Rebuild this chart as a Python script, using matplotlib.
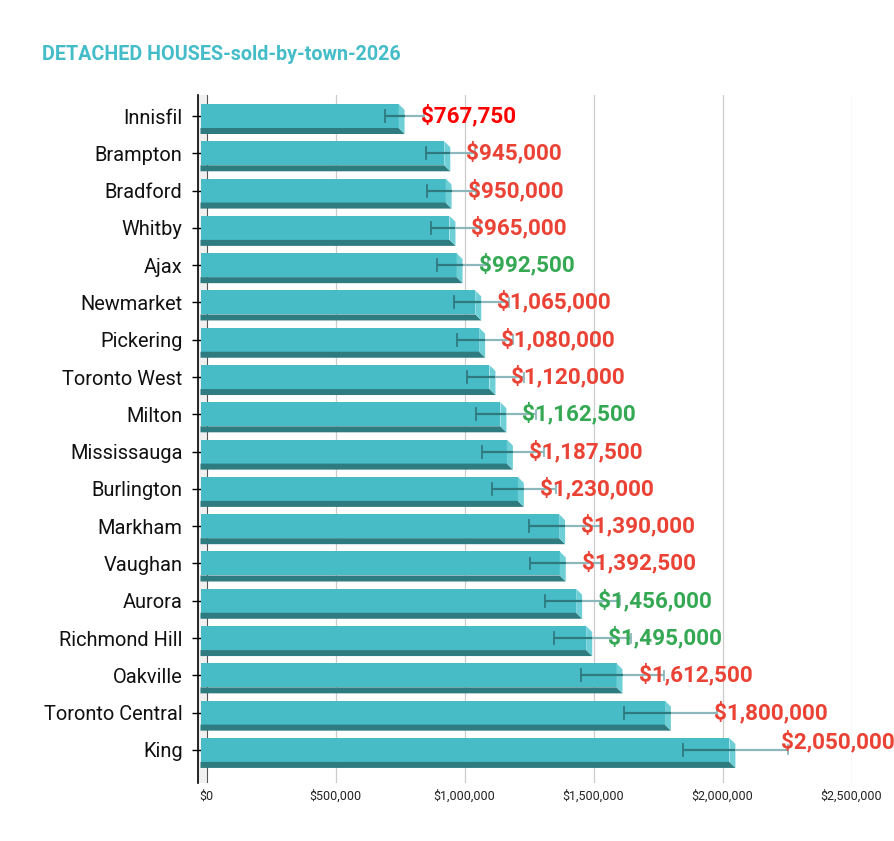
import matplotlib
matplotlib.use("Agg")
import matplotlib.pyplot as plt
from matplotlib.patches import Polygon
from matplotlib.ticker import FuncFormatter

towns = ["Innisfil", "Brampton", "Bradford", "Whitby", "Ajax", "Newmarket",
         "Pickering", "Toronto West", "Milton", "Mississauga", "Burlington",
         "Markham", "Vaughan", "Aurora", "Richmond Hill", "Oakville",
         "Toronto Central", "King"]
prices = [767750, 945000, 950000, 965000, 992500, 1065000, 1080000, 1120000,
          1162500, 1187500, 1230000, 1390000, 1392500, 1456000, 1495000,
          1612500, 1800000, 2050000]
trend = ["strong_down", "down", "down", "down", "up", "down", "down", "down",
         "up", "down", "down", "down", "down", "up", "up", "down", "down", "down"]
error_frac = 0.10
x_ticks = [0, 500000, 1000000, 1500000, 2000000, 2500000]
title = "DETACHED HOUSES-sold-by-town-2026"

# styles
FONT = "Roboto"
FRONT = "#47bcc7"
BOTTOM = "#2e7b80"
SIDE = "#6fcfd6"
ERR_IN = "#2f7a7e"
ERR_OUT = "#8cb7bb"
label_colors = {"strong_down": "#ff0000", "down": "#ea4335", "up": "#34a853"}
# labels placed at the error-bar end: (x back-off in data units, y shift in rows)
LABEL_AT_ERR_END = {"Toronto Central": (14000, 0.0), "King": (27000, -0.2)}

W, H = 894, 841
fig = plt.figure(figsize=(W / 100, H / 100), dpi=100)
left_px, right_px, top_px, bot_px = 198.3, 851.5, 94.5, 783
ax = fig.add_axes([left_px / W, 1 - bot_px / H, (right_px - left_px) / W, (bot_px - top_px) / H])

px_per_unit_x = 129 / 500000
row_px = 37.29
xmin = -(206.5 - left_px) / px_per_unit_x
ax.set_xlim(xmin, 2500000)
ax.set_ylim((bot_px - 116) / row_px, (top_px - 116) / row_px)

hh = 12 / row_px
dy = 6 / row_px
dx = 6 / px_per_unit_x

# wall + zero line
ax.axvspan(xmin, 0, color="#f0f0f0", zorder=0.5, lw=0)
ax.axvline(0, color="#555555", lw=0.8, zorder=0.6)

for gx in x_ticks[1:]:
    ax.axvline(gx, color="#cccccc", lw=0.9, zorder=0.4)

for i, (town, v, t) in enumerate(zip(towns, prices, trend)):
    y = i
    front = Polygon([(-dx, y - hh), (v - dx, y - hh), (v - dx, y + hh), (-dx, y + hh)],
                    closed=True, facecolor=FRONT, edgecolor="none", zorder=2, clip_on=False)
    bottom = Polygon([(-dx, y + hh), (v - dx, y + hh), (v, y + hh + dy), (-dx, y + hh + dy)],
                     closed=True, facecolor=BOTTOM, edgecolor="none", zorder=2, clip_on=False)
    side = Polygon([(v - dx, y - hh), (v, y - hh + dy), (v, y + hh + dy), (v - dx, y + hh)],
                   closed=True, facecolor=SIDE, edgecolor="none", zorder=2, clip_on=False)
    for p in (front, bottom, side):
        ax.add_patch(p)
    lo, hi = v * (1 - error_frac), v * (1 + error_frac)
    ax.plot([lo, v], [y, y], color=ERR_IN, lw=1.6, zorder=3, solid_capstyle="butt")
    ax.plot([v, hi], [y, y], color=ERR_OUT, lw=1.6, zorder=3, solid_capstyle="butt")
    ax.plot([lo, lo], [y - 0.16, y + 0.16], color=ERR_IN, lw=1.3, zorder=3)
    ax.plot([hi, hi], [y - 0.12, y + 0.12], color=ERR_OUT, lw=1.3, zorder=3)
    if town in LABEL_AT_ERR_END:
        back, yshift = LABEL_AT_ERR_END[town]
        lx = hi - back
        ly = y + yshift
    else:
        lx = v + 62000
        ly = y
    ax.text(lx, ly, f"${v:,.0f}", color=label_colors[t], fontsize=16.2, fontweight="bold",
            family=FONT, va="center", ha="left", zorder=5, clip_on=False)

ax.set_yticks(range(len(towns)))
ax.set_yticklabels(towns, family=FONT, fontsize=14.4, color="#111111")
ax.set_xticks(x_ticks)
ax.xaxis.set_major_formatter(FuncFormatter(lambda x, p: f"${x:,.0f}"))
for lab in ax.get_xticklabels():
    lab.set_family(FONT)
    lab.set_fontsize(9)
    lab.set_color("#222222")
ax.tick_params(axis="x", length=0, pad=5)
ax.tick_params(axis="y", direction="inout", length=8.6, width=1, color="black", pad=7)
for s in ["top", "right", "bottom"]:
    ax.spines[s].set_visible(False)
ax.spines["left"].set_linewidth(1.2)
ax.spines["left"].set_zorder(4)
ax.set_facecolor("white")
for tl in ax.yaxis.get_ticklines():
    tl.set_zorder(6)

fig.text(42 / W, 1 - 54 / H, title, family=FONT, fontsize=14.2, fontweight="bold",
         color="#45bdc9", va="center", ha="left")

fig.savefig("out.png", dpi=100)
